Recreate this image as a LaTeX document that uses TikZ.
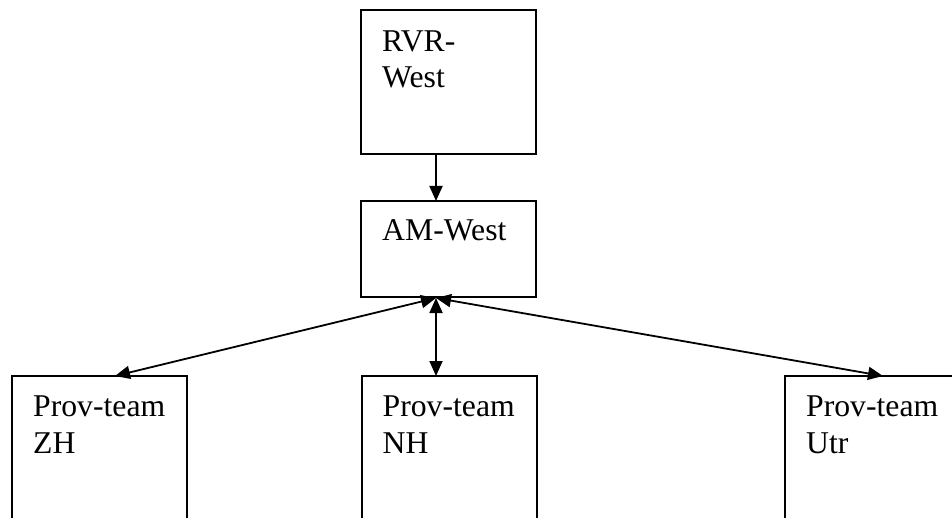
\documentclass[tikz,border=0pt]{standalone}
\usepackage{fontspec}
\setmainfont{Liberation Serif}
\usetikzlibrary{arrows.meta,calc}
\begin{document}
\begin{tikzpicture}[x=1pt,y=-1pt,
  box/.style={draw,line width=2pt,minimum width=175pt,inner sep=0pt,outer sep=0pt},
  txt/.style={anchor=base west,inner sep=0pt,font=\fontsize{31.7pt}{37pt}\selectfont},
  link/.style={line width=1.8pt,{Triangle[length=15pt,width=13pt]}-{Triangle[length=15pt,width=13pt]}},
  down/.style={line width=1.8pt,-{Triangle[length=15pt,width=13pt]}}]
  \useasboundingbox (0,0) rectangle (952,518);
  \clip (0,0) rectangle (952,518);
  \fill[white] (0,0) rectangle (952,518);

  % top chain
  \node[box,minimum height=144pt] (rvr) at (448.5,82) {};
  \node[box,minimum height=96pt] (am) at (448.5,249) {};
  % provincial teams, running off the lower edge
  \node[box,minimum height=184pt] (zh) at (99.5,468) {};
  \node[box,minimum height=184pt] (nh) at (449,468) {};
  \node[box,minimum height=184pt] (utr) at (872.5,468) {};

  % labels
  \node[txt] (rvr1) at ($(rvr.north west)+(21,42)$) {RVR-};
  \node[txt] (rvr2) at ($(rvr.north west)+(21,78)$) {West};
  \node[txt] (am1) at ($(am.north west)+(21,40)$) {AM-West};
  \foreach \n/\t in {zh/ZH,nh/NH,utr/Utr}{
    \node[txt] (\n1) at ($(\n.north west)+(21,40)$) {Prov-team};
    \node[txt] (\n2) at ($(\n.north west)+(21,77)$) {\t};
  }

  % connectors
  \coordinate (hub) at (436,298);
  \draw[down] (rvr.south -| hub) -- (am.north -| hub);
  \draw[link] (hub) -- (nh.north -| hub);
  \draw[link] (hub) -- ($(zh.north west)+(103,0)$);
  \draw[link] (hub) -- ($(utr.north west)+(98,0)$);
\end{tikzpicture}
\end{document}
